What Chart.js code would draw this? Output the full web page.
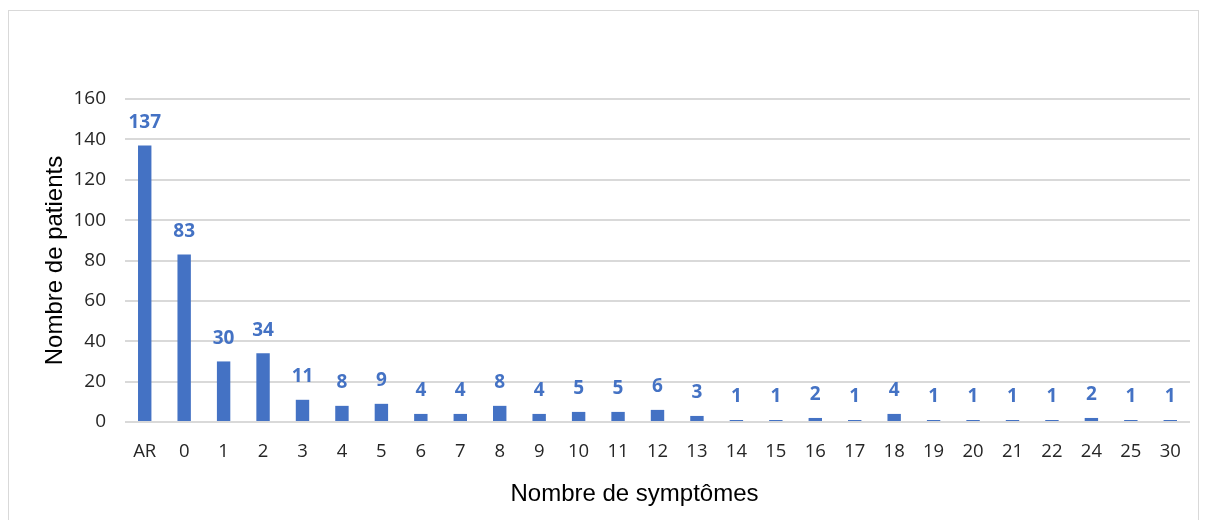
<!DOCTYPE html>
<html><head><meta charset="utf-8">
<script src="https://cdn.jsdelivr.net/npm/chart.js@4"></script>
<style>
html,body{margin:0;padding:0;background:#fff;}
#wrap{position:relative;width:1205px;height:520px;}
#frame{position:absolute;left:8px;top:10px;width:1191px;height:520px;border:1.5px solid #d9d9d9;box-sizing:border-box;pointer-events:none;}
canvas{position:absolute;left:0;top:0;}
</style></head>
<body>
<div id="wrap"><canvas id="c" width="1205" height="520"></canvas><div id="frame"></div></div>
<script>
const categories = ["AR","0","1","2","3","4","5","6","7","8","9","10","11","12","13","14","15","16","17","18","19","20","21","22","24","25","30"];
const patients = [137,83,30,34,11,8,9,4,4,8,4,5,5,6,3,1,1,2,1,4,1,1,1,1,2,1,1];
const yTicks = [0,20,40,60,80,100,120,140,160];
const xTitle = "Nombre de symptômes";
const yTitle = "Nombre de patients";

const labelPlugin = {
  id: 'barLabels',
  afterDatasetsDraw(chart) {
    const ctx = chart.ctx;
    const meta = chart.getDatasetMeta(0);
    ctx.save();
    ctx.font = 'bold 19px "Open Sans"';
    ctx.fillStyle = '#4472C4';
    ctx.textAlign = 'center';
    ctx.textBaseline = 'middle';
    meta.data.forEach((bar, i) => {
      ctx.fillText(String(patients[i]), bar.x, bar.y - 23);
    });
    // x-axis title (placed slightly left of plot centre, as in the original)
    const ca = chart.chartArea;
    ctx.font = '24px "Liberation Sans"';
    ctx.fillStyle = '#000';
    ctx.fillText(xTitle, (ca.left + ca.right) / 2 - 23, 494);
    ctx.restore();
  }
};

new Chart(document.getElementById('c'), {
  type: 'bar',
  data: {
    labels: categories,
    datasets: [{ data: patients, backgroundColor: '#4472C4', barPercentage: 0.34, categoryPercentage: 1 }]
  },
  options: {
    responsive: false,
    animation: false,
    devicePixelRatio: 1,
    layout: { padding: { left: 0, right: 15, top: 99, bottom: 0 } },
    plugins: { legend: { display: false }, tooltip: { enabled: false } },
    scales: {
      x: {
        grid: { display: false },
        border: { display: false },
        ticks: { color: '#262626', font: { family: 'Open Sans', size: 18.5 }, padding: 11, maxRotation: 0, autoSkip: false },
        title: { display: false, text: xTitle },
        afterFit(s) { s.height = 98; }
      },
      y: {
        min: 0, max: 160,
        afterBuildTicks(s) { s.ticks = yTicks.map(v => ({ value: v })); },
        grid: { color: '#d9d9d9', lineWidth: 2, drawTicks: false },
        border: { display: false },
        ticks: { color: '#262626', font: { family: 'Open Sans', size: 19 }, padding: 19 },
        title: { display: true, text: yTitle, color: '#000', font: { family: 'Liberation Sans', size: 24 }, padding: { top: 41, bottom: 4 } },
        afterFit(s) { s.width = 125; }
      }
    }
  },
  plugins: [labelPlugin]
});
</script>
</body></html>
